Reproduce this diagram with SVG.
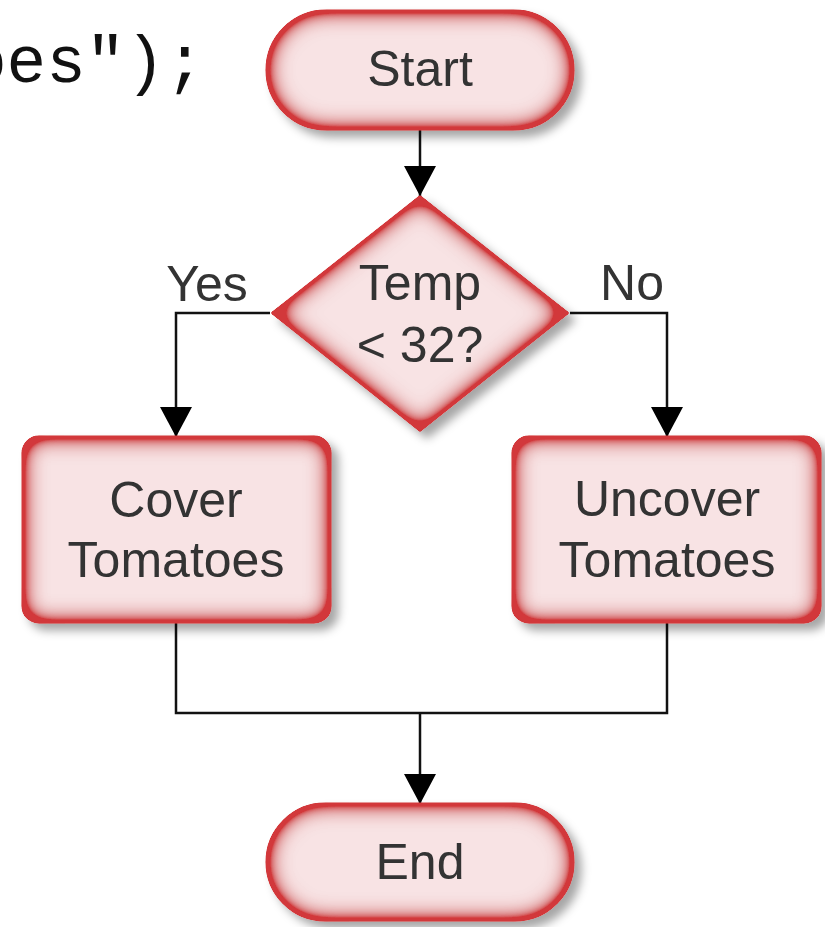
<svg xmlns="http://www.w3.org/2000/svg" width="825" height="927" viewBox="0 0 825 927">
<style>
.shape{fill:#f8e3e4;stroke:#d2383a;stroke-width:3;filter:url(#node);stroke-linejoin:round}
.lbl{font-family:"Liberation Sans",Arial,sans-serif;font-size:50px;fill:#333;text-anchor:middle}
.conn{fill:none;stroke:#111;stroke-width:2.5}
.code{font-family:"Liberation Mono","Courier New",monospace;font-size:66px;fill:#111}
</style>
<defs>
<filter id="node" x="-20%" y="-20%" width="150%" height="150%">
<feGaussianBlur in="SourceAlpha" stdDeviation="5" result="sb"/>
<feOffset in="sb" dx="7" dy="7" result="so"/>
<feFlood flood-color="#000" flood-opacity="0.35"/>
<feComposite in2="so" operator="in" result="shadow"/>
<feGaussianBlur in="SourceAlpha" stdDeviation="12" result="ib"/>
<feComposite in="SourceAlpha" in2="ib" operator="arithmetic" k2="2.6" k3="-2.6" result="edge"/>
<feFlood flood-color="#d2383a"/>
<feComposite in2="edge" operator="in" result="glow"/>
<feMerge><feMergeNode in="shadow"/><feMergeNode in="SourceGraphic"/><feMergeNode in="glow"/></feMerge>
</filter>
<marker id="arr" markerUnits="userSpaceOnUse" markerWidth="30" markerHeight="32" refX="30" refY="16" orient="auto">
<path d="M0,0 L30,16 L0,32 z" fill="#000"/>
</marker>
</defs>
<text class="code" x="-33" y="82">oes");</text>
<g id="connectors">
<path class="conn" d="M420,129 V196" marker-end="url(#arr)"/>
<path class="conn" d="M270,313 H176 V437" marker-end="url(#arr)"/>
<path class="conn" d="M570,313 H667 V437" marker-end="url(#arr)"/>
<path class="conn" d="M176,622 V713 H667 V622"/>
<path class="conn" d="M420,713 V804" marker-end="url(#arr)"/>
<text class="lbl" x="207" y="301">Yes</text>
<text class="lbl" x="632" y="300">No</text>
</g>
<g id="start">
<rect class="shape" x="267" y="11" width="306" height="118" rx="59"/>
<text class="lbl" x="420" y="86">Start</text>
</g>
<g id="decision">
<polygon class="shape" points="420,197 567,313 420,430 273,313"/>
<text class="lbl" x="420" y="300">Temp</text>
<text class="lbl" x="420" y="362">&lt; 32?</text>
</g>
<g id="cover">
<rect class="shape" x="23" y="437" width="307" height="185" rx="16"/>
<text class="lbl" x="176" y="517">Cover</text>
<text class="lbl" x="176" y="577">Tomatoes</text>
</g>
<g id="uncover">
<rect class="shape" x="513" y="437" width="307" height="185" rx="16"/>
<text class="lbl" x="667" y="516">Uncover</text>
<text class="lbl" x="667" y="577">Tomatoes</text>
</g>
<g id="end">
<rect class="shape" x="267" y="804" width="306" height="116" rx="58"/>
<text class="lbl" x="420" y="879">End</text>
</g>
</svg>
